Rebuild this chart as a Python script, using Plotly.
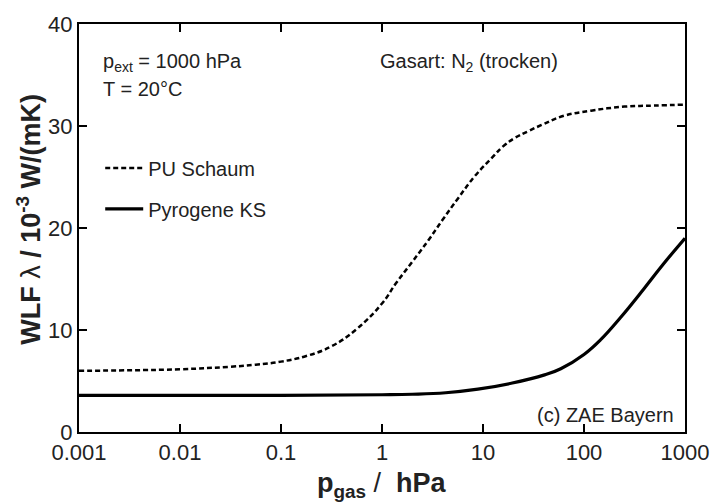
import plotly.graph_objects as go

# ---- data ----
p_pu = [0.001, 0.00316, 0.01, 0.0316, 0.0562, 0.1, 0.178, 0.316, 0.562,
        1.0, 1.38, 2.0, 2.88, 3.98, 5.75, 8.32, 12.3, 15.8, 20.4, 28.2, 38.0, 63.1, 117.5,
        251.0, 501.0, 1000.0]
k_pu = [6.0, 6.05, 6.15, 6.4, 6.6, 6.9, 7.45, 8.4, 10.1,
        12.6, 14.6, 16.7, 18.8, 20.8, 23.0, 25.1, 26.9, 28.0, 28.8, 29.5, 30.1, 31.0, 31.5,
        31.9, 32.0, 32.1]

p_ks = [0.001, 0.01, 0.1, 1.0, 2.0, 4.27, 8.91, 19.5, 40.7, 58.9, 100.0, 148.0,
        229.0, 389.0, 603.0, 1000.0]
k_ks = [3.6, 3.6, 3.6, 3.65, 3.7, 3.85, 4.2, 4.8, 5.6, 6.2, 7.6, 9.1,
        11.2, 14.0, 16.4, 19.0]

x_tickvals = [0.001, 0.01, 0.1, 1, 10, 100, 1000]
x_ticktext = ["0.001", "0.01", "0.1", "1", "10", "100", "1000"]
y_tickvals = [0, 10, 20, 30, 40]

FONT = "Liberation Sans, Arial, sans-serif"
TXT = "#222222"

fig = go.Figure()
fig.add_trace(go.Scatter(
    x=p_pu, y=k_pu, mode="lines", name="PU Schaum", legendgroup="a",
    line=dict(color="black", width=2.5, dash="5px,3px", shape="spline", smoothing=1.2),
))
fig.add_trace(go.Scatter(
    x=p_ks, y=k_ks, mode="lines", name="Pyrogene KS", legendgroup="b",
    line=dict(color="black", width=3.2, shape="spline", smoothing=1.2),
))

axis_common = dict(
    showline=True, linecolor="black", linewidth=2, mirror="ticks",
    ticks="inside", ticklen=8, tickwidth=2, tickcolor="black",
    showgrid=False, zeroline=False,
    tickfont=dict(family=FONT, size=22, color=TXT),
)

fig.update_xaxes(type="log", range=[-3, 3], tickvals=x_tickvals, ticktext=x_ticktext,
                 **axis_common)
fig.update_yaxes(range=[0, 40], tickvals=y_tickvals, **axis_common)

fig.update_layout(
    width=721, height=504,
    margin=dict(l=79, r=29, t=23, b=72),
    paper_bgcolor="white", plot_bgcolor="white",
    font=dict(family=FONT, color=TXT),
    showlegend=True,
    legend=dict(x=0.035, y=0.695, xanchor="left", yanchor="top",
                traceorder="grouped", tracegroupgap=12,
                font=dict(family=FONT, size=20, color=TXT),
                bgcolor="rgba(0,0,0,0)", itemwidth=38),
    annotations=[
        dict(xref="paper", yref="paper", x=0.036, y=0.905, xanchor="left", yanchor="middle",
             text="p<sub>ext</sub> = 1000 hPa", showarrow=False,
             font=dict(family=FONT, size=20, color=TXT)),
        dict(xref="paper", yref="paper", x=0.036, y=0.84, xanchor="left", yanchor="middle",
             text="T = 20°C", showarrow=False,
             font=dict(family=FONT, size=20, color=TXT)),
        dict(xref="paper", yref="paper", x=0.494, y=0.905, xanchor="left", yanchor="middle",
             text="Gasart: N<sub>2</sub> (trocken)", showarrow=False,
             font=dict(family=FONT, size=20, color=TXT)),
        dict(xref="paper", yref="paper", x=0.985, y=0.042, xanchor="right", yanchor="middle",
             text="(c) ZAE Bayern", showarrow=False,
             font=dict(family=FONT, size=20, color=TXT)),
        dict(xref="paper", yref="paper", x=-0.083, y=0.522, xanchor="center", yanchor="middle",
             textangle=-90, showarrow=False,
             text="<b>WLF</b> λ <b>/ 10<sup>-3</sup> W/(mK)</b>",
             font=dict(family=FONT, size=27, color=TXT)),
        dict(xref="paper", yref="paper", x=0.5, y=-0.13, xanchor="center", yanchor="middle",
             showarrow=False,
             text="<b>p<sub>gas</sub></b> /  <b>hPa</b>",
             font=dict(family=FONT, size=27, color=TXT)),
    ],
)

fig.write_html("out.html")
